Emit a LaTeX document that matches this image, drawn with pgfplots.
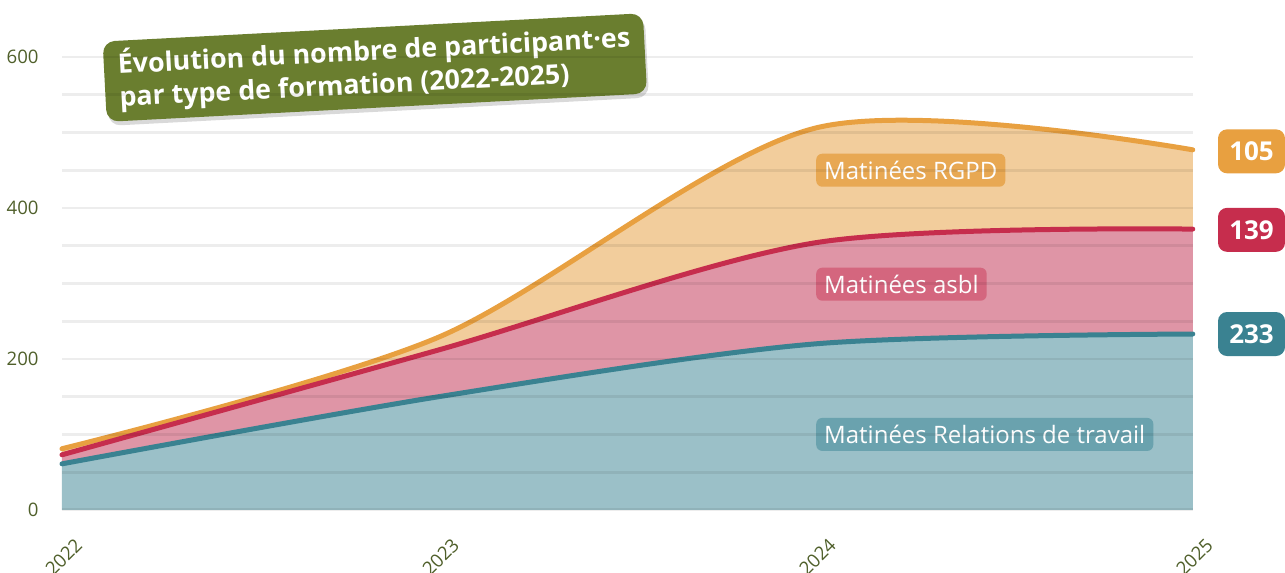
\documentclass[border=0pt]{standalone}
\usepackage{fontspec}
\setmainfont{Open Sans}
\usepackage{pgfplots}
\pgfplotsset{compat=1.18}
\usepgfplotslibrary{fillbetween}
\usetikzlibrary{shadows}
\definecolor{olivetxt}{HTML}{4F5F2A}
\definecolor{titlegreen}{HTML}{6A7E2F}
\definecolor{oline}{HTML}{E8A040}
\definecolor{rline}{HTML}{C62D4D}
\definecolor{tline}{HTML}{3A8291}
\definecolor{ofill}{HTML}{F2CD9C}
\definecolor{rfill}{HTML}{DF95A6}
\definecolor{tfill}{HTML}{9BC0C8}
\definecolor{olab}{HTML}{E8A853}
\definecolor{rlab}{HTML}{D4667E}
\definecolor{tlab}{HTML}{6AA2AE}
\begin{document}
\begin{tikzpicture}
\begin{axis}[
  at={(0,0)}, anchor=south west,
  scale only axis, width=565.5pt, height=226.5pt,
  xmin=2022, xmax=2025, ymin=0, ymax=600,
  axis line style={draw=none},
  tick style={draw=none},
  axis on top,
  clip=false,
  ymajorgrids,
  ytick={0,50,...,600},
  yticklabels={},
  xtick={2022,2025},
  xticklabels={},
  grid style={black, opacity=0.07, line width=1.4pt},
]
% cumulative (stacked) totals
\addplot[draw=none, name path=base, forget plot] coordinates {(2022,0) (2025,0)};
\addplot[draw=none, smooth, name path=t, forget plot] coordinates {(2022,61) (2023,150) (2024,220) (2025,233)};
\addplot[draw=none, smooth, name path=r, forget plot] coordinates {(2022,73) (2023,212) (2024,354) (2025,372)};
\addplot[draw=none, smooth, name path=o, forget plot] coordinates {(2022,81) (2023,229) (2024,506) (2025,477)};
\addplot[ofill] fill between[of=o and r];
\addplot[rfill] fill between[of=r and t];
\addplot[tfill] fill between[of=t and base];
\addplot[oline, line width=2.5pt, smooth, line cap=round] coordinates {(2022,81) (2023,229) (2024,506) (2025,477)};
\addplot[rline, line width=2.5pt, smooth, line cap=round] coordinates {(2022,73) (2023,212) (2024,354) (2025,372)};
\addplot[tline, line width=2.5pt, smooth, line cap=round] coordinates {(2022,61) (2023,150) (2024,220) (2025,233)};
% y tick labels
\pgfplotsinvokeforeach{0,200,400,600}{
  \node[anchor=east, text=olivetxt, inner sep=0pt, font=\fontsize{9.3}{11}\selectfont] at ([xshift=-11.5pt]axis cs:2022,#1) {#1};
}
% x tick labels
\pgfplotsinvokeforeach{2022,2023,2024,2025}{
  \node[overlay, anchor=east, rotate=45, text=olivetxt, font=\fontsize{9.3}{11}\selectfont, inner sep=0pt] at ([xshift=8.5pt, yshift=-16pt]axis cs:#1,0) {#1};
}
% series labels
\node[anchor=west, fill=olab, text=white, rounded corners=3pt, inner xsep=4pt, inner ysep=1pt, minimum height=16.5pt, font=\fontsize{12}{14}\selectfont] at (axis cs:2024.0,450) {Matinées RGPD};
\node[anchor=west, fill=rlab, text=white, rounded corners=3pt, inner xsep=4pt, inner ysep=1pt, minimum height=16.5pt, font=\fontsize{12}{14}\selectfont] at (axis cs:2024.0,299) {Matinées asbl};
\node[anchor=west, fill=tlab, text=white, rounded corners=3pt, inner xsep=4pt, inner ysep=1pt, minimum height=16.5pt, font=\fontsize{12}{14}\selectfont] at (axis cs:2024.0,100) {Matinées Relations de travail};
% end badges
\node[anchor=west, fill=oline, text=white, rounded corners=4.5pt, minimum width=33.5pt, minimum height=22pt, font=\bfseries\fontsize{13}{15}\selectfont] at (axis cs:2025.066,475) {105};
\node[anchor=west, fill=rline, text=white, rounded corners=4.5pt, minimum width=33.5pt, minimum height=22pt, font=\bfseries\fontsize{13}{15}\selectfont] at (axis cs:2025.066,371) {139};
\node[anchor=west, fill=tline, text=white, rounded corners=4.5pt, minimum width=33.5pt, minimum height=22pt, font=\bfseries\fontsize{13}{15}\selectfont] at (axis cs:2025.066,233) {233};
% title
\node[rotate=3, fill=titlegreen, text=white, rounded corners=6pt, drop shadow={opacity=0.3, shadow xshift=1pt, shadow yshift=-2pt}, align=left, inner xsep=7pt, inner ysep=4pt, font=\bfseries\fontsize{13.4}{16.5}\selectfont] at (axis cs:2022.83,586) {Évolution du nombre de participant·es\\par type de formation (2022-2025)};
\end{axis}
\path (-31pt,-31.5pt) rectangle (611.5pt,255pt);
\end{tikzpicture}
\end{document}
